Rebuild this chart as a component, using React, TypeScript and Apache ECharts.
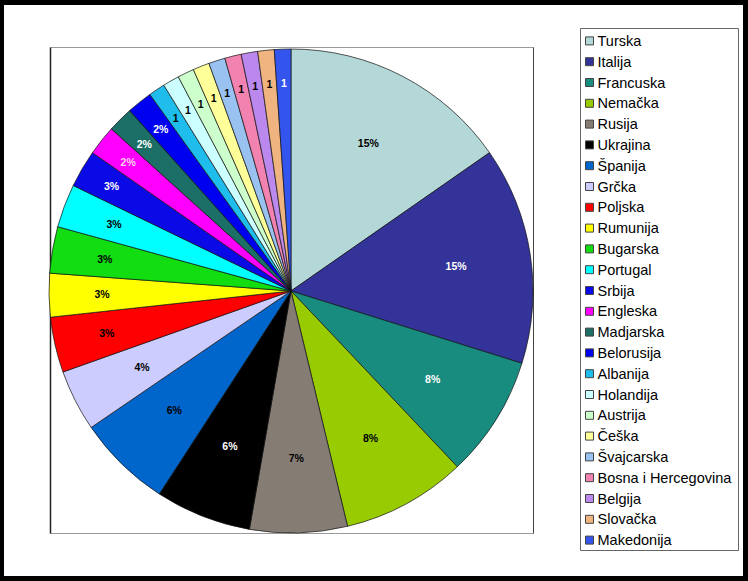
import React, { useEffect, useRef } from "react";
import * as echarts from "echarts";

const countries = [
  "Turska", "Italija", "Francuska", "Nemačka", "Rusija", "Ukrajina", "Španija", "Grčka",
  "Poljska", "Rumunija", "Bugarska", "Portugal", "Srbija", "Engleska", "Madjarska", "Belorusija",
  "Albanija", "Holandija", "Austrija", "Češka", "Švajcarska", "Bosna i Hercegovina", "Belgija",
  "Slovačka", "Makedonija",
];

// share in percent
const shares = [
  15.3, 14.5, 8.1, 8.3, 6.5, 6.4, 6.3, 4.1,
  3.7, 2.9, 3.1, 2.9, 2.5, 2.0, 1.7, 1.7,
  1.1, 1.1, 1.1, 1.1, 1.1, 1.1, 1.1, 1.1, 1.1,
];

// data labels as printed on the chart
const sliceLabels = [
  "15%", "15%", "8%", "8%", "7%", "6%", "6%", "4%",
  "3%", "3%", "3%", "3%", "3%", "2%", "2%", "2%",
  "1", "1", "1", "1", "1", "1", "1", "1", "1",
];

const sliceColors = [
  "#B4D7D7", "#333399", "#198C80", "#99CC00", "#857C74", "#000000", "#0066CC", "#CCCCFF",
  "#FF0000", "#FFFF00", "#11DD11", "#00FFFF", "#0A0AE6", "#FF00FF", "#1B6F66", "#0000F0",
  "#1EBDEB", "#CCFFFF", "#CCFFCC", "#FFFF99", "#99C2F0", "#F283B0", "#BB88EE", "#F0B480", "#3355EE",
];

const labelColors = [
  "#000", "#fff", "#fff", "#000", "#000", "#fff", "#000", "#000",
  "#000", "#000", "#000", "#000", "#fff", "#ffd0f0", "#fff", "#fff",
  "#000", "#000", "#000", "#000", "#000", "#000", "#000", "#000", "#fff",
];

const FONT = "'Liberation Sans', Arial, sans-serif";

export default function App() {
  const ref = useRef<HTMLDivElement>(null);

  useEffect(() => {
    if (!ref.current) return;
    const chart = echarts.init(ref.current, undefined, { renderer: "svg" });
    const center = [291, 291];
    const R = 242;

    const baseData = countries.map((name, i) => ({
      name,
      value: shares[i],
      itemStyle: { color: sliceColors[i] },
    }));

    const labelOverlay = (from: number, to: number, mid: number) => ({
      type: "pie",
      center,
      radius: [mid - 20, mid + 20],
      startAngle: 90,
      clockwise: true,
      silent: true,
      avoidLabelOverlap: false,
      emphasis: { disabled: true },
      labelLine: { show: false },
      itemStyle: { color: "transparent", borderWidth: 0 },
      label: {
        show: true,
        position: "inside",
        fontFamily: FONT,
        fontSize: 10.5,
        fontWeight: "bold",
        formatter: (p: any) =>
          p.dataIndex >= from && p.dataIndex <= to ? sliceLabels[p.dataIndex] : "",
      },
      data: countries.map((name, i) => ({
        name,
        value: shares[i],
        label: { color: labelColors[i] },
      })),
    });

    chart.setOption({
      animation: false,
      backgroundColor: "#000",
      graphic: [
        { type: "rect", z: -10, shape: { x: 4, y: 5, width: 739, height: 571 }, style: { fill: "#fff" } },
        { type: "rect", z: -5, shape: { x: 50.5, y: 47.5, width: 483, height: 486 }, style: { fill: "#fff", stroke: "#9a9a9a", lineWidth: 1 } },
        { type: "line", z: -4, shape: { x1: 50.5, y1: 47.5, x2: 50.5, y2: 533.5 }, style: { stroke: "#222", lineWidth: 1.5 } },
        { type: "line", z: -4, shape: { x1: 533.5, y1: 47.5, x2: 533.5, y2: 533.5 }, style: { stroke: "#444", lineWidth: 1 } },
        { type: "rect", z: -5, shape: { x: 580.5, y: 28.5, width: 158, height: 522 }, style: { fill: "#fff", stroke: "#666", lineWidth: 1 } },
      ],
      legend: {
        orient: "vertical",
        left: 585,
        top: 30.5,
        padding: 0,
        itemGap: 0,
        itemWidth: 8,
        itemHeight: 8,
        icon: "rect",
        selectedMode: false,
        itemStyle: { borderColor: "#444", borderWidth: 1 },
        textStyle: { fontFamily: FONT, fontSize: 14.5, color: "#000", lineHeight: 20.8, padding: [0, 0, 0, -1] },
        data: countries,
      },
      series: [
        {
          type: "pie",
          center,
          radius: R,
          startAngle: 90,
          clockwise: true,
          avoidLabelOverlap: false,
          emphasis: { disabled: true },
          label: { show: false },
          labelLine: { show: false },
          itemStyle: { borderColor: "#111", borderWidth: 0.7 },
          data: baseData,
        },
        labelOverlay(0, 7, 164),
        labelOverlay(8, 11, 186),
        labelOverlay(12, 24, 205),
      ],
    });
    return () => chart.dispose();
  }, []);

  return (
    <div
      ref={ref}
      style={{ position: "absolute", left: 0, top: 0, width: 748, height: 581 }}
    />
  );
}
